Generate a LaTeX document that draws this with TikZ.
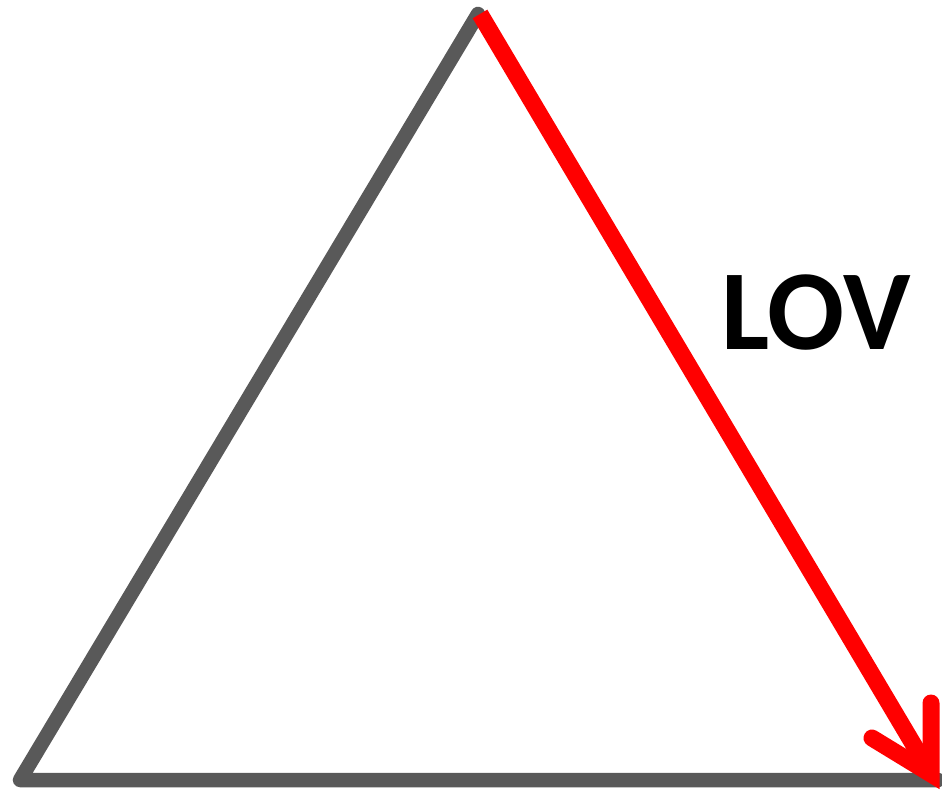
\documentclass[tikz,border=0pt]{standalone}
\usepackage{fontspec}
\setmainfont{Carlito}
\usetikzlibrary{positioning,calc}
\definecolor{cSide}{HTML}{595959}
\definecolor{cArrow}{HTML}{FF0000}
\tikzset{
  side/.style={draw=cSide,line width=14.5pt,line join=round,line cap=round},
  lov/.style={draw=cArrow,line width=17pt},
  tipArm/.style={draw=cArrow,line width=17pt,line cap=round},
  lbl/.style={font=\bfseries\fontsize{114}{114}\selectfont,text=black,inner sep=0pt},
}
\begin{document}
\begin{tikzpicture}[x=1pt,y=-1pt]
    \useasboundingbox (0,0) rectangle (942,793);
    \coordinate (top) at (478,14);
    \coordinate (bl) at (20,780);
    \coordinate (br) at (938,780);
    \coordinate (tip) at (931,774);
    \draw[side] (br) -- (bl) -- (top);
    \draw[lov] (480,14) -- (tip);
    \draw[tipArm] (931,703) -- (tip) -- (872,738);
    \node[lbl] (name) at (816,313) {LOV};
  \end{tikzpicture}
\end{document}
